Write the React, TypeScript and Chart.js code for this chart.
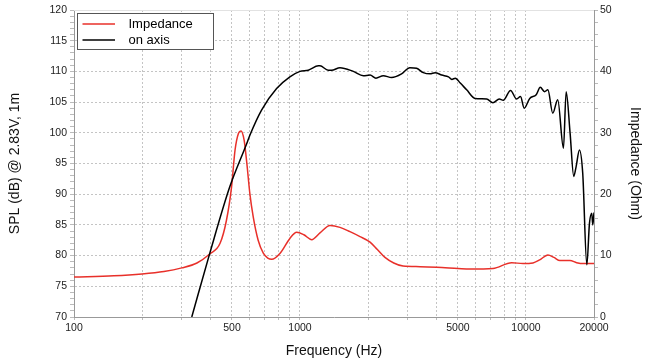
import React, { useEffect, useRef } from "react";
import { Chart, registerables } from "chart.js";

Chart.register(...registerables);

// ---- Data ----
const impFreq = [100, 150, 200, 250, 300, 350, 400, 443, 473, 498, 516, 534, 548, 566, 582, 600, 621, 653, 688, 720, 750, 817, 902, 967, 1040, 1127, 1226, 1358, 1503, 1664, 1843, 2042, 2200, 2377, 2600, 2857, 3400, 4027, 5000, 5652, 7145, 8645, 9700, 10740, 11500, 12510, 13300, 14130, 15660, 16760, 18000, 20000];
const impOhm = [6.5, 6.7, 7.0, 7.4, 8.0, 8.8, 10.3, 12.0, 15.8, 21.2, 27.2, 29.9, 30.3, 28.8, 25.0, 20.1, 16.3, 12.5, 10.4, 9.6, 9.4, 10.4, 12.8, 13.8, 13.4, 12.6, 13.7, 14.9, 14.6, 13.9, 13.1, 12.2, 11.0, 9.7, 8.8, 8.3, 8.2, 8.1, 7.9, 7.8, 7.9, 8.85, 8.7, 8.8, 9.3, 10.1, 9.7, 9.2, 9.2, 8.85, 8.7, 8.7];

const splFreq = [332, 399, 489, 582, 600, 676, 788, 902, 1000, 1088, 1207, 1226, 1333, 1380, 1503, 1722, 1907, 2042, 2168, 2337, 2544, 2815, 3063, 3282, 3512, 3763, 3960, 4240, 4540, 4700, 4866, 5120, 5465, 5953, 6700, 7140, 7620, 7930, 8550, 9090, 9460, 9820, 10390, 11100, 11570, 12080, 12500, 13140, 13820, 14650, 15060, 15680, 16270, 16670, 17240, 17830, 18590, 19100, 19550, 19750, 20000];
const splDb = [70.0, 80.4, 91.2, 98.3, 99.6, 103.7, 107.2, 109.1, 110.0, 110.2, 110.9, 110.9, 110.2, 110.2, 110.6, 110.0, 109.3, 109.4, 108.9, 109.3, 109.0, 109.6, 110.6, 110.5, 109.8, 109.6, 109.8, 109.4, 109.1, 108.7, 108.9, 108.1, 107.0, 105.6, 105.5, 104.9, 105.5, 105.3, 106.9, 105.5, 105.9, 104.0, 105.6, 106.2, 107.4, 106.7, 107.0, 103.2, 105.4, 97.5, 106.7, 99.9, 92.9, 94.5, 97.2, 93.4, 78.5, 85.3, 86.9, 85.0, 87.0];

const xGridValues = [100, 200, 300, 400, 500, 600, 700, 800, 900, 1000, 2000, 3000, 4000, 5000, 6000, 7000, 8000, 9000, 10000, 20000];
const xTickLabels = [100, 500, 1000, 5000, 10000, 20000];
const splRange = [70, 120];
const ohmRange = [0, 50];

const seriesLabels = ["Impedance", "on axis"];
const seriesColors = ["#e8302a", "#000000"];

const FONT = "'Liberation Sans', Arial, Helvetica, sans-serif";

const legendPlugin = {
  id: "boxLegend",
  afterDraw(chart: any) {
    const ctx = chart.ctx;
    const area = chart.chartArea;
    ctx.save();
    // light solid top frame line
    ctx.strokeStyle = "#e2e2e2";
    ctx.lineWidth = 1;
    ctx.beginPath();
    ctx.moveTo(area.left, Math.round(area.top) + 0.5);
    ctx.lineTo(area.right, Math.round(area.top) + 0.5);
    ctx.stroke();

    const x0 = area.left + 3.5;
    const y0 = area.top + 3.5;
    const w = 136;
    const h = 36;
    ctx.fillStyle = "#ffffff";
    ctx.fillRect(x0, y0, w, h);
    ctx.strokeStyle = "#555555";
    ctx.lineWidth = 1;
    ctx.strokeRect(x0, y0, w, h);
    ctx.font = `13px ${FONT}`;
    ctx.textBaseline = "middle";
    ctx.textAlign = "left";
    const order = [1, 0];
    order.forEach((di, i) => {
      const ds = chart.data.datasets[di];
      const y = y0 + 10.5 + i * 16;
      ctx.strokeStyle = ds.borderColor;
      ctx.lineWidth = 1.7;
      ctx.beginPath();
      ctx.moveTo(x0 + 5, y);
      ctx.lineTo(x0 + 37.5, y);
      ctx.stroke();
      ctx.fillStyle = "#000";
      ctx.fillText(ds.label, x0 + 51, y + 0.5);
    });
    ctx.restore();
  },
};

export default function App() {
  const ref = useRef<HTMLCanvasElement | null>(null);
  useEffect(() => {
    if (!ref.current) return;
    const gridColor = "#c4c4c4";
    const chart = new Chart(ref.current, {
      type: "line",
      data: {
        datasets: [
          {
            label: seriesLabels[1],
            data: splFreq.map((f, i) => ({ x: f, y: splDb[i] })),
            borderColor: seriesColors[1],
            borderWidth: 1.5,
            pointRadius: 0,
            cubicInterpolationMode: "monotone",
            yAxisID: "y",
          },
          {
            label: seriesLabels[0],
            data: impFreq.map((f, i) => ({ x: f, y: impOhm[i] })),
            borderColor: seriesColors[0],
            borderWidth: 1.5,
            pointRadius: 0,
            cubicInterpolationMode: "monotone",
            yAxisID: "y2",
          },
        ],
      },
      options: {
        responsive: false,
        animation: false,
        layout: { padding: { top: 10, left: 0, right: 0, bottom: 0 } },
        plugins: { legend: { display: false }, tooltip: { enabled: false } },
        scales: {
          x: {
            type: "logarithmic",
            min: 100,
            max: 20000,
            afterFit: (s: any) => { s.height = 47; },
            afterBuildTicks: (s: any) => { s.ticks = xGridValues.map((v) => ({ value: v })); },
            ticks: {
              autoSkip: false,
              maxRotation: 0,
              padding: 2,
              color: "#222",
              font: { family: FONT, size: 10.5 },
              callback: (v: any) => (xTickLabels.includes(Math.round(Number(v))) ? String(Math.round(Number(v))) : ""),
            },
            grid: { color: gridColor, tickLength: 3, tickColor: "#bbb" },
            border: { display: true, color: "#999", dash: [2, 2] },
            title: { display: true, text: "Frequency (Hz)", color: "#111", font: { family: FONT, size: 14 }, padding: { top: 0, bottom: 4.6 } },
          },
          y: {
            position: "left",
            min: splRange[0],
            max: splRange[1],
            afterFit: (s: any) => { s.width = 74; },
            ticks: {
              stepSize: 1,
              autoSkip: false,
              maxTicksLimit: 100,
              padding: 3,
              color: "#222",
              font: { family: FONT, size: 10.5 },
              callback: (v: any) => (Number(v) % 5 === 0 ? String(v) : ""),
            },
            grid: {
              color: (c: any) => (c.tick && c.tick.value % 5 === 0 ? gridColor : "rgba(0,0,0,0)"),
              tickColor: "#bbb",
              tickLength: 4,
            },
            border: { display: true, color: "#999", dash: [2, 2] },
            title: { display: true, text: "SPL (dB) @ 2.83V, 1m", color: "#111", font: { family: FONT, size: 14 }, padding: { top: 6.6, bottom: 0 } },
          },
          y2: {
            position: "right",
            min: ohmRange[0],
            max: ohmRange[1],
            afterFit: (s: any) => { s.width = 56; },
            ticks: {
              stepSize: 2,
              autoSkip: false,
              maxTicksLimit: 100,
              padding: 2,
              color: "#222",
              font: { family: FONT, size: 10.5 },
              callback: (v: any) => (Number(v) % 10 === 0 ? String(v) : ""),
            },
            grid: { drawOnChartArea: false, tickColor: "#bbb", tickLength: 4 },
            border: { display: true, color: "#999" },
            title: { display: true, text: "Impedance (Ohm)", color: "#111", font: { family: FONT, size: 14 }, padding: { top: 6.6, bottom: 0 } },
          },
        },
      },
      plugins: [legendPlugin],
    } as any);
    return () => chart.destroy();
  }, []);
  return (
    <div style={{ position: "fixed", left: 0, top: 0, width: 650, height: 364, background: "#fff" }}>
      <canvas ref={ref} width={650} height={364} style={{ display: "block" }} />
    </div>
  );
}
